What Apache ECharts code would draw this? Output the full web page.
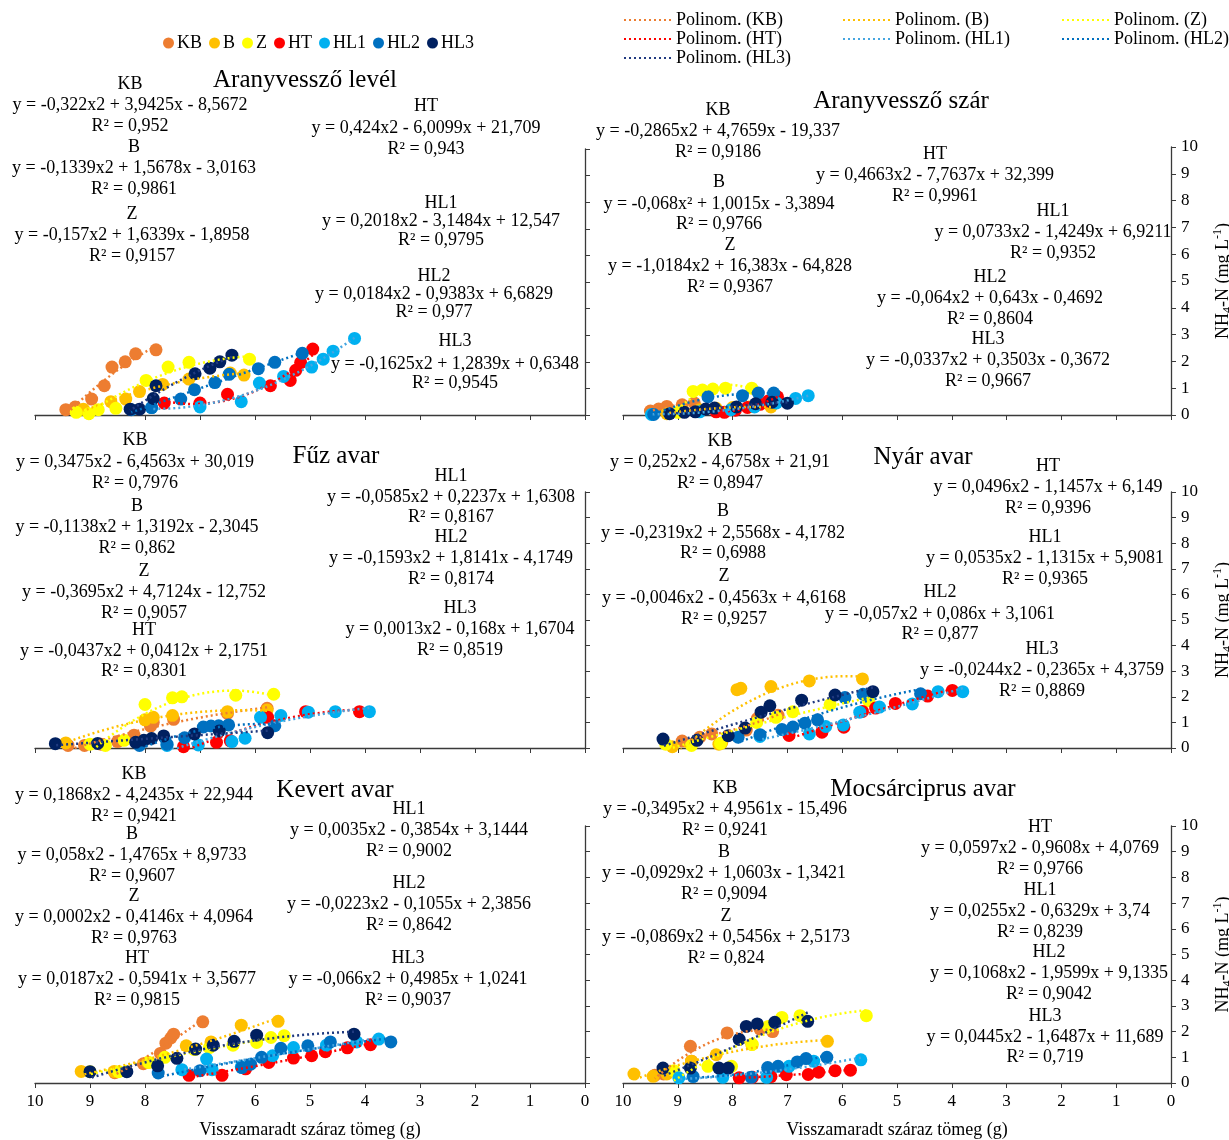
<!DOCTYPE html>
<html>
<head>
<meta charset="utf-8">
<script src="https://cdn.jsdelivr.net/npm/echarts@6/dist/echarts.min.js"></script>
<style>
  html, body { margin: 0; background: #fff; }
  #chart { width: 1229px; height: 1140px; }
</style>
</head>
<body>
<div id="chart"></div>
<script>
// csoportok és színek
const groups = ['KB', 'B', 'Z', 'HT', 'HL1', 'HL2', 'HL3']
const groupColors = ['#ED7D31', '#FFC000', '#FFFF00', '#FF0000', '#00B0F0', '#0070C0', '#002060']
const trendColors = ['#ED7D31', '#FFC000', '#FFFF00', '#FF0000', '#45A5E0', '#0070C0', '#203A80']
const xTicks = [0, 1, 2, 3, 4, 5, 6, 7, 8, 9, 10]

// Aranyvessző levél  [visszamaradt tömeg (g), NH4-N]
const levelKB = [[9.44, 0.2], [9.27, 0.3], [8.97, 0.6], [8.74, 1.1], [8.6, 1.8], [8.36, 2.0], [8.17, 2.3], [7.8, 2.45]]
const levelB = [[9.12, 0.22], [8.62, 0.5], [8.35, 0.6], [8.1, 0.88], [7.68, 1.15], [7.2, 1.35], [6.45, 1.58], [6.2, 1.5]]
const levelZ = [[9.25, 0.1], [9.02, 0.05], [8.85, 0.2], [8.53, 0.25], [7.98, 1.3], [7.58, 1.8], [7.2, 1.98], [6.1, 2.1]]
const levelHT = [[7.65, 0.45], [7.0, 0.45], [6.5, 0.78], [5.72, 1.1], [5.36, 1.3], [5.26, 1.68], [5.17, 1.97], [4.95, 2.48]]
const levelHL1 = [[7.88, 0.28], [7.0, 0.3], [6.25, 0.5], [5.92, 1.2], [5.48, 1.45], [4.97, 1.8], [4.76, 2.1], [4.58, 2.4], [4.19, 2.88]]
const levelHL2 = [[8.25, 0.2], [7.88, 0.28], [7.35, 0.6], [7.1, 0.95], [6.73, 1.22], [6.47, 1.53], [5.94, 1.74], [5.64, 1.98], [5.14, 2.32]]
const levelHL3 = [[8.27, 0.22], [8.1, 0.22], [7.85, 0.62], [7.8, 1.1], [7.09, 1.55], [6.82, 1.76], [6.64, 2.0], [6.42, 2.25]]

// Aranyvessző szár
const szarKB = [[9.5, 0.15], [9.35, 0.22], [9.2, 0.32], [8.92, 0.38], [8.7, 0.45]]
const szarB = [[9.2, 0.05], [8.9, 0.15], [8.6, 0.2], [8.3, 0.25], [8.0, 0.28], [7.7, 0.3], [7.3, 0.3]]
const szarZ = [[9.0, 0.1], [8.72, 0.88], [8.55, 0.93], [8.36, 0.97], [8.13, 1.0], [7.65, 1.0]]
const szarHT = [[8.3, 0.12], [8.15, 0.1], [7.95, 0.18], [7.73, 0.28], [7.5, 0.4], [7.35, 0.52], [7.18, 0.68]]
const szarHL1 = [[9.48, 0.02], [8.6, 0.12], [8.03, 0.2], [7.6, 0.3], [7.2, 0.45], [6.85, 0.62], [6.62, 0.72]]
const szarHL2 = [[9.44, 0.02], [8.45, 0.68], [7.82, 0.72], [7.53, 0.82], [7.25, 0.82]]
const szarHL3 = [[9.15, 0.05], [8.88, 0.1], [8.68, 0.12], [8.49, 0.22], [8.33, 0.26], [7.93, 0.3], [7.58, 0.42], [7.28, 0.48], [7.0, 0.44]]

// Fűz avar
const fuzKB = [[9.4, 0.1], [9.1, 0.1], [8.8, 0.15], [8.5, 0.25], [8.2, 0.5], [7.9, 0.85], [7.85, 1.0], [7.48, 1.12], [6.5, 1.35], [5.78, 1.55]]
const fuzB = [[9.44, 0.2], [8.0, 1.1], [7.85, 1.2], [7.5, 1.27], [6.5, 1.42], [5.78, 1.48]]
const fuzZ = [[9.0, 0.15], [8.72, 0.1], [8.38, 0.3], [8.0, 1.7], [7.5, 1.96], [7.33, 2.0], [6.35, 2.06], [5.66, 2.1]]
const fuzHT = [[7.3, 0.05], [6.7, 0.22], [6.45, 0.28], [5.77, 1.2], [5.08, 1.42], [4.1, 1.42]]
const fuzHL1 = [[7.6, 0.1], [7.03, 0.12], [6.42, 0.25], [6.18, 0.38], [5.9, 1.2], [5.53, 1.27], [5.03, 1.4], [4.54, 1.42], [3.92, 1.42]]
const fuzHL2 = [[8.1, 0.1], [7.6, 0.15], [7.28, 0.4], [6.94, 0.82], [6.8, 0.86], [6.66, 0.87], [6.48, 0.9], [5.64, 0.87]]
const fuzHL3 = [[9.63, 0.17], [8.86, 0.18], [8.17, 0.22], [8.02, 0.3], [7.88, 0.37], [7.66, 0.47], [7.1, 0.55], [6.65, 0.66], [5.77, 0.6]]

// Nyár avar
const nyarKB = [[8.92, 0.27], [8.6, 0.42], [8.38, 0.55], [7.75, 0.7], [7.55, 1.15], [7.17, 1.28]]
const nyarB = [[9.1, 0.05], [8.25, 0.15], [8.2, 0.2], [7.92, 2.28], [7.85, 2.33], [7.3, 2.4], [6.6, 2.62], [5.63, 2.7]]
const nyarZ = [[9.22, 0.15], [8.75, 0.1], [8.22, 0.18], [7.56, 1.0], [7.21, 1.2], [6.9, 1.42], [6.22, 1.7], [5.52, 1.85]]
const nyarHT = [[6.97, 0.49], [6.37, 0.62], [5.97, 0.81], [5.63, 1.43], [5.39, 1.56], [5.03, 1.74], [4.44, 2.03], [3.99, 2.25]]
const nyarHL1 = [[7.5, 0.45], [6.6, 0.55], [6.3, 0.84], [5.98, 0.9], [5.68, 1.4], [5.32, 1.6], [4.72, 1.72], [4.25, 2.2], [3.8, 2.2]]
const nyarHL2 = [[7.9, 0.42], [7.5, 0.52], [7.1, 0.72], [6.9, 0.82], [6.68, 0.97], [6.45, 1.1], [5.95, 1.97], [5.62, 2.1], [4.57, 2.12]]
const nyarHL3 = [[9.27, 0.35], [8.65, 0.3], [8.08, 0.48], [7.77, 0.78], [7.48, 1.4], [7.32, 1.65], [6.74, 1.87], [6.13, 2.07], [5.44, 2.2]]

// Kevert avar
const kevertKB = [[8.55, 0.4], [8.03, 0.75], [7.72, 1.15], [7.62, 1.55], [7.53, 1.75], [7.48, 1.9], [6.95, 2.38]]
const kevertB = [[9.16, 0.45], [8.56, 0.45], [7.95, 0.8], [7.25, 1.45], [6.8, 1.6], [6.25, 2.25], [5.58, 2.4]]
const kevertZ = [[9.0, 0.44], [8.48, 0.44], [7.93, 0.8], [7.64, 1.0], [7.1, 1.3], [6.83, 1.38], [6.4, 1.47], [5.97, 1.58], [5.71, 1.77], [5.47, 1.84]]
const kevertHT = [[7.2, 0.3], [6.6, 0.3], [6.17, 0.55], [5.75, 0.8], [5.3, 0.97], [4.97, 1.06], [4.72, 1.22], [4.32, 1.37], [3.9, 1.49]]
const kevertHL1 = [[7.33, 0.52], [6.88, 0.93], [6.78, 0.52], [6.25, 0.63], [5.68, 1.06], [5.3, 1.38], [4.7, 1.47], [4.15, 1.6], [3.75, 1.71]]
const kevertHL2 = [[7.76, 0.39], [7.0, 0.48], [6.24, 0.6], [6.08, 0.73], [5.88, 1.0], [5.53, 1.35], [5.04, 1.45], [4.63, 1.6], [3.53, 1.6]]
const kevertHL3 = [[9.0, 0.44], [8.33, 0.44], [7.77, 0.67], [7.42, 0.96], [7.08, 1.32], [6.76, 1.47], [6.38, 1.62], [5.97, 1.86], [4.2, 1.9]]

// Mocsárciprus avar
const mocsarKB = [[9.42, 0.3], [9.26, 0.35], [8.77, 1.43], [8.75, 0.85], [8.1, 1.95], [7.5, 2.1], [7.27, 2.0]]
const mocsarB = [[9.8, 0.35], [9.45, 0.26], [9.2, 0.35], [8.75, 0.85], [8.3, 1.1], [7.65, 1.5], [6.27, 1.62]]
const mocsarZ = [[9.07, 0.48], [8.45, 0.65], [8.02, 0.65], [7.64, 1.5], [7.35, 2.2], [7.1, 2.55], [6.77, 2.62], [5.56, 2.62]]
const mocsarHT = [[7.88, 0.2], [7.64, 0.22], [7.3, 0.25], [7.02, 0.32], [6.62, 0.33], [6.43, 0.42], [6.13, 0.48], [5.85, 0.5]]
const mocsarHL1 = [[8.98, 0.2], [8.18, 0.22], [7.38, 0.22], [6.97, 0.65], [6.52, 0.85], [5.66, 0.9]]
const mocsarHL2 = [[8.72, 0.25], [7.66, 0.22], [7.36, 0.6], [7.17, 0.65], [6.82, 0.82], [6.66, 0.95], [6.28, 1.0]]
const mocsarHL3 = [[9.27, 0.58], [8.77, 0.58], [8.25, 0.58], [8.08, 0.58], [7.88, 1.7], [7.75, 2.2], [7.55, 2.3], [7.23, 2.36], [6.63, 2.4]]

// egyenletek (címke, egyenlet, R²)
const levelEq = [
  ['KB', 'y = -0,322x2 + 3,9425x - 8,5672', 'R² = 0,952'],
  ['B', 'y = -0,1339x2 + 1,5678x - 3,0163', 'R² = 0,9861'],
  ['Z', 'y = -0,157x2 + 1,6339x - 1,8958', 'R² = 0,9157'],
  ['HT', 'y = 0,424x2 - 6,0099x + 21,709', 'R² = 0,943'],
  ['HL1', 'y = 0,2018x2 - 3,1484x + 12,547', 'R² = 0,9795'],
  ['HL2', 'y = 0,0184x2 - 0,9383x + 6,6829', 'R² = 0,977'],
  ['HL3', 'y = -0,1625x2 + 1,2839x + 0,6348', 'R² = 0,9545']
]
const szarEq = [
  ['KB', 'y = -0,2865x2 + 4,7659x - 19,337', 'R² = 0,9186'],
  ['B', 'y = -0,068x² + 1,0015x - 3,3894', 'R² = 0,9766'],
  ['Z', 'y = -1,0184x2 + 16,383x - 64,828', 'R² = 0,9367'],
  ['HT', 'y = 0,4663x2 - 7,7637x + 32,399', 'R² = 0,9961'],
  ['HL1', 'y = 0,0733x2 - 1,4249x + 6,9211', 'R² = 0,9352'],
  ['HL2', 'y = -0,064x2 + 0,643x - 0,4692', 'R² = 0,8604'],
  ['HL3', 'y = -0,0337x2 + 0,3503x - 0,3672', 'R² = 0,9667']
]
const fuzEq = [
  ['KB', 'y = 0,3475x2 - 6,4563x + 30,019', 'R² = 0,7976'],
  ['B', 'y = -0,1138x2 + 1,3192x - 2,3045', 'R² = 0,862'],
  ['Z', 'y = -0,3695x2 + 4,7124x - 12,752', 'R² = 0,9057'],
  ['HT', 'y = -0,0437x2 + 0,0412x + 2,1751', 'R² = 0,8301'],
  ['HL1', 'y = -0,0585x2 + 0,2237x + 1,6308', 'R² = 0,8167'],
  ['HL2', 'y = -0,1593x2 + 1,8141x - 4,1749', 'R² = 0,8174'],
  ['HL3', 'y = 0,0013x2 - 0,168x + 1,6704', 'R² = 0,8519']
]
const nyarEq = [
  ['KB', 'y = 0,252x2 - 4,6758x + 21,91', 'R² = 0,8947'],
  ['B', 'y = -0,2319x2 + 2,5568x - 4,1782', 'R² = 0,6988'],
  ['Z', 'y = -0,0046x2 - 0,4563x + 4,6168', 'R² = 0,9257'],
  ['HT', 'y = 0,0496x2 - 1,1457x + 6,149', 'R² = 0,9396'],
  ['HL1', 'y = 0,0535x2 - 1,1315x + 5,9081', 'R² = 0,9365'],
  ['HL2', 'y = -0,057x2 + 0,086x + 3,1061', 'R² = 0,877'],
  ['HL3', 'y = -0,0244x2 - 0,2365x + 4,3759', 'R² = 0,8869']
]
const kevertEq = [
  ['KB', 'y = 0,1868x2 - 4,2435x + 22,944', 'R² = 0,9421'],
  ['B', 'y = 0,058x2 - 1,4765x + 8,9733', 'R² = 0,9607'],
  ['Z', 'y = 0,0002x2 - 0,4146x + 4,0964', 'R² = 0,9763'],
  ['HT', 'y = 0,0187x2 - 0,5941x + 3,5677', 'R² = 0,9815'],
  ['HL1', 'y = 0,0035x2 - 0,3854x + 3,1444', 'R² = 0,9002'],
  ['HL2', 'y = -0,0223x2 - 0,1055x + 2,3856', 'R² = 0,8642'],
  ['HL3', 'y = -0,066x2 + 0,4985x + 1,0241', 'R² = 0,9037']
]
const mocsarEq = [
  ['KB', 'y = -0,3495x2 + 4,9561x - 15,496', 'R² = 0,9241'],
  ['B', 'y = -0,0929x2 + 1,0603x - 1,3421', 'R² = 0,9094'],
  ['Z', 'y = -0,0869x2 + 0,5456x + 2,5173', 'R² = 0,824'],
  ['HT', 'y = 0,0597x2 - 0,9608x + 4,0769', 'R² = 0,9766'],
  ['HL1', 'y = 0,0255x2 - 0,6329x + 3,74', 'R² = 0,8239'],
  ['HL2', 'y = 0,1068x2 - 1,9599x + 9,1335', 'R² = 0,9042'],
  ['HL3', 'y = 0,0445x2 - 1,6487x + 11,689', 'R² = 0,719']
]

const panelTitles = ['Aranyvessző levél', 'Aranyvessző szár', 'Fűz avar', 'Nyár avar', 'Kevert avar', 'Mocsárciprus avar']
const xName = 'Visszamaradt száraz tömeg (g)'

const panels = [
  { data: [levelKB, levelB, levelZ, levelHT, levelHL1, levelHL2, levelHL3], eq: levelEq },
  { data: [szarKB, szarB, szarZ, szarHT, szarHL1, szarHL2, szarHL3], eq: szarEq },
  { data: [fuzKB, fuzB, fuzZ, fuzHT, fuzHL1, fuzHL2, fuzHL3], eq: fuzEq },
  { data: [nyarKB, nyarB, nyarZ, nyarHT, nyarHL1, nyarHL2, nyarHL3], eq: nyarEq },
  { data: [kevertKB, kevertB, kevertZ, kevertHT, kevertHL1, kevertHL2, kevertHL3], eq: kevertEq },
  { data: [mocsarKB, mocsarB, mocsarZ, mocsarHT, mocsarHL1, mocsarHL2, mocsarHL3], eq: mocsarEq }
]

// elrendezés
const grids = [
  { left: 35, top: 149, width: 550, height: 266 },
  { left: 623, top: 147, width: 548, height: 268 },
  { left: 35, top: 492, width: 550, height: 256 },
  { left: 623, top: 492, width: 548, height: 256 },
  { left: 35, top: 826, width: 550, height: 257 },
  { left: 623, top: 826, width: 548, height: 257 }
].map(g => Object.assign(g, { containLabel: false, outerBoundsMode: 'none' }))
const titlePos = [[305, 80], [901, 101], [336, 456], [923, 457], [335, 790], [923, 789]]
// [középpont x, címke y, egyenlet y, R² y]
const eqPos = [
  [[130, 84, 105, 126], [134, 147, 168, 189], [132, 214, 235, 256], [426, 106, 128, 149], [441, 203, 221, 240], [434, 276, 294, 312], [455, 341, 364, 383]],
  [[718, 110, 131, 152], [719, 182, 204, 224], [730, 245, 266, 287], [935, 154, 175, 196], [1053, 211, 232, 253], [990, 277, 298, 319], [988, 339, 360, 381]],
  [[135, 440, 462, 483], [137, 506, 527, 548], [144, 571, 592, 613], [144, 630, 651, 671], [451, 476, 497, 517], [451, 537, 558, 579], [460, 608, 629, 650]],
  [[720, 441, 462, 483], [723, 511, 533, 553], [724, 576, 598, 619], [1048, 466, 487, 508], [1045, 537, 558, 579], [940, 592, 614, 634], [1042, 649, 670, 691]],
  [[134, 774, 795, 816], [132, 834, 855, 876], [134, 896, 917, 938], [137, 958, 979, 1000], [409, 809, 830, 851], [409, 883, 904, 925], [408, 958, 979, 1000]],
  [[725, 788, 809, 830], [724, 852, 873, 894], [726, 916, 937, 958], [1040, 827, 848, 869], [1040, 890, 911, 932], [1049, 952, 973, 994], [1045, 1016, 1037, 1057]]
]

const serif = '"Liberation Serif", "Times New Roman", serif'
const axisColor = '#3a3a3a'

// másodfokú polinom illesztés (Excel trendvonal)
function quadFit(pts) {
  let s0 = 0, s1 = 0, s2 = 0, s3 = 0, s4 = 0, t0 = 0, t1 = 0, t2 = 0
  pts.forEach(([x, y]) => {
    s0 += 1; s1 += x; s2 += x * x; s3 += x * x * x; s4 += x * x * x * x
    t0 += y; t1 += x * y; t2 += x * x * y
  })
  const M = [[s4, s3, s2], [s3, s2, s1], [s2, s1, s0]]
  const V = [t2, t1, t0]
  const det = m => m[0][0] * (m[1][1] * m[2][2] - m[1][2] * m[2][1]) -
    m[0][1] * (m[1][0] * m[2][2] - m[1][2] * m[2][0]) +
    m[0][2] * (m[1][0] * m[2][1] - m[1][1] * m[2][0])
  const D = det(M)
  const rep = k => M.map((row, i) => row.map((v, j) => (j === k ? V[i] : v)))
  return [det(rep(0)) / D, det(rep(1)) / D, det(rep(2)) / D]
}
function trendData(pts) {
  const [a, b, c] = quadFit(pts)
  const xs = pts.map(p => p[0])
  const lo = Math.min(...xs), hi = Math.max(...xs)
  const out = []
  for (let i = 0; i <= 40; i++) {
    const x = lo + (hi - lo) * i / 40
    out.push([x, a * x * x + b * x + c])
  }
  return out
}

const xAxes = [], yAxes = [], series = [], graphics = []
grids.forEach((g, i) => {
  const bottom = i >= 4
  const right = i % 2 === 1
  xAxes.push({
    gridIndex: i, type: 'value', min: 0, max: 10, interval: 1, inverse: true,
    axisLine: { show: true, lineStyle: { color: axisColor, width: 1.3 } },
    axisTick: { show: true, length: 5, lineStyle: { color: axisColor } },
    axisLabel: { show: bottom, color: '#000', fontSize: 17, fontFamily: serif, margin: 10 },
    splitLine: { show: false },
    name: bottom ? xName : '',
    nameLocation: 'middle', nameGap: 38,
    nameTextStyle: { color: '#000', fontSize: 18, fontFamily: serif }
  })
  yAxes.push({
    gridIndex: i, type: 'value', min: 0, max: 10, interval: 1, position: 'right',
    axisLine: { show: true, lineStyle: { color: axisColor, width: 1.3 } },
    axisTick: { show: true, length: 5, lineStyle: { color: axisColor } },
    axisLabel: { show: right, color: '#000', fontSize: 17, fontFamily: serif, margin: 10 },
    splitLine: { show: false },
    name: right ? '{a|NH}{s|4}{a|-N (mg L}{p|-1}{a|)}' : '',
    nameLocation: 'middle', nameRotate: 90, nameGap: 41,
    nameTextStyle: {
      rich: {
        a: { fontSize: 18, fontFamily: serif, color: '#000', lineHeight: 22 },
        s: { fontSize: 12, fontFamily: serif, color: '#000', verticalAlign: 'bottom', lineHeight: 22 },
        p: { fontSize: 12, fontFamily: serif, color: '#000', verticalAlign: 'top', lineHeight: 22 }
      }
    }
  })

  const p = panels[i]
  groups.forEach((name, k) => {
    series.push({
      name: name, type: 'scatter', xAxisIndex: i, yAxisIndex: i,
      data: p.data[k], symbol: 'circle', symbolSize: 13, z: 2,
      itemStyle: { color: groupColors[k], opacity: 1 }
    })
  })
  groups.forEach((name, k) => {
    series.push({
      name: 'Polinom. (' + name + ')', type: 'line', xAxisIndex: i, yAxisIndex: i,
      data: trendData(p.data[k]), symbol: 'none', showSymbol: false, smooth: false, z: 3,
      lineStyle: { color: trendColors[k], width: 2.5, type: [2, 3] },
      itemStyle: { color: trendColors[k] }
    })
  })

  graphics.push({
    type: 'text', x: titlePos[i][0], y: titlePos[i][1], silent: true,
    style: { text: panelTitles[i], fontSize: 25, fontFamily: serif, fill: '#000', align: 'center', verticalAlign: 'middle' }
  })
  p.eq.forEach((lines, k) => {
    const pos = eqPos[i][k]
    lines.forEach((t, j) => {
      graphics.push({
        type: 'text', x: pos[0], y: pos[j + 1], silent: true,
        style: { text: t, fontSize: 18, fontFamily: serif, fill: '#000', align: 'center', verticalAlign: 'middle' }
      })
    })
  })
})

const lineLegend = (left, names) => ({
  orient: 'vertical', left: left, top: 6, itemGap: 1, itemWidth: 50, itemHeight: 14,
  data: names.map(n => 'Polinom. (' + n + ')'),
  itemStyle: { opacity: 0 },
  textStyle: { color: '#000', fontSize: 18, fontFamily: serif, lineHeight: 18, padding: [0, 0, 0, -3] }
})

const chart = echarts.init(document.getElementById('chart'))
chart.setOption({
  backgroundColor: '#fff',
  animation: false,
  legend: [
    {
      left: 158, top: 29, itemGap: 7, itemWidth: 11, itemHeight: 11, icon: 'circle',
      data: groups,
      textStyle: { color: '#000', fontSize: 18, fontFamily: serif, padding: [0, 0, 0, -2] }
    },
    lineLegend(618, ['KB', 'HT', 'HL3']),
    lineLegend(837, ['B', 'HL1']),
    lineLegend(1056, ['Z', 'HL2'])
  ],
  grid: grids,
  xAxis: xAxes,
  yAxis: yAxes,
  series: series,
  graphic: graphics
})
</script>
</body>
</html>
